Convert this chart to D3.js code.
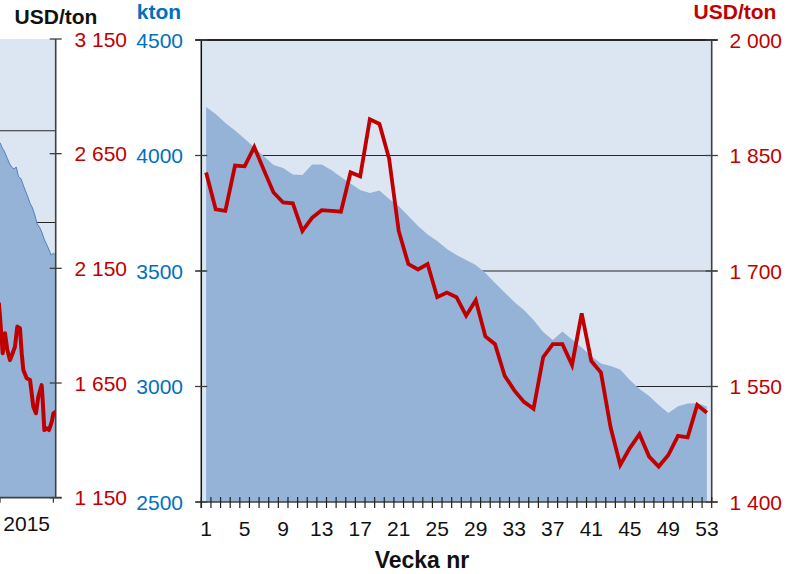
<!DOCTYPE html>
<html>
<head>
<meta charset="utf-8">
<script src="https://cdn.jsdelivr.net/npm/d3@7/dist/d3.min.js"></script>
<style>
  html, body { margin: 0; padding: 0; background: #fff; }
  svg { display: block; font-family: "Liberation Sans", Arial, sans-serif; }
</style>
</head>
<body>
<svg id="chart" width="800" height="574"></svg>
<script>
// ---------- DATA ----------
const weeks = [1,2,3,4,5,6,7,8,9,10,11,12,13,14,15,16,17,18,19,20,21,22,23,24,25,26,27,
  28,29,30,31,32,33,34,35,36,37,38,39,40,41,42,43,44,45,46,47,48,49,50,51,52,53];
const weekLabels = [1,5,9,13,17,21,25,29,33,37,41,45,49,53];

// stock, kton (left axis, area)
const stockKton = [4210,4180,4141,4108,4072,4035,3997,3959,3946,3918,3916,3961,3961,3937,3907,
  3879,3851,3838,3848,3812,3781,3738,3695,3658,3630,3595,3569,3548,3526,3491,3448,3407,3366,
  3331,3288,3236,3201,3238,3203,3169,3132,3100,3089,3074,3028,2989,2959,2920,2885,2915,2926,2928,2913];

// price, USD/ton (right axis, line)
const priceUsd = [1828,1780,1778,1837,1836,1861,1831,1802,1789,1788,1752,1769,1779,1778,1777,
  1828,1823,1897,1891,1846,1752,1709,1702,1709,1666,1672,1666,1642,1662,1615,1605,1564,1545,
  1530,1521,1588,1605,1605,1578,1645,1583,1568,1497,1448,1470,1488,1459,1446,1461,1486,1484,1526,1516];

const ktonTicks = [2500,3000,3500,4000,4500];
const priceTicks = [1400,1550,1700,1850,2000];

// left (cropped) panel: daily series, day index within visible part
const leftStockDays = [0,2,4,6,8,10,12,14,16,18,20,22,24,26,28,30,32,34,36,38,40,42,44,46,48];
const leftStockKton = [3935,3906,3884,3854,3824,3802,3792,3802,3748,3740,3704,3672,3639,3603,
  3579,3541,3492,3475,3448,3410,3383,3355,3323,3332,3323];
const leftPriceDays = [-1,0,2.3,4.3,6.3,8.6,10.9,12.9,14.9,17.2,18.7,20.1,23,25.9,27.3,28.7,31,33,
  35.9,36.8,38.2,40.3,42.2,44.6,46,48];
const leftPriceUsd = [2000,1939,1780,1867,1794,1750,1780,1808,1896,1889,1780,1707,1671,1663,1605,
  1547,1518,1590,1641,1576,1445,1453,1445,1481,1518,1525];
const leftPriceTicks = [1150,1650,2150,2650,3150];
const leftGridKton = [2500,3000,3500,4000];
const leftYearBounds = [0,46];
const leftYearLabel = [{day: 23, label: "2015"}];

// ---------- STYLE ----------
const C = {
  bg: "#dce6f2", area: "#95b3d7", areaLine: "#4f81bd", red: "#c00000",
  blue: "#0070c0", axis: "#404040", grid: "#262626"
};
const fmtSp = d3.formatLocale({thousands: "\u00a0", grouping: [3], decimal: ",", currency: ["", ""]}).format(",");

const svg = d3.select("#chart");

// ---------- MAIN PANEL ----------
const L = 201.3, R = 711.7, T = 40, B = 502;
const x = d3.scaleBand().domain(weeks).range([L, R]).paddingInner(0).paddingOuter(0);
const xc = w => x(w) + x.bandwidth() / 2;
const yK = d3.scaleLinear().domain([2500, 4500]).range([B, T]);
const yP = d3.scaleLinear().domain([1400, 2000]).range([B, T]);

const main = svg.append("g");
main.append("rect").attr("x", L).attr("y", T).attr("width", R - L).attr("height", B - T).attr("fill", C.bg);

main.selectAll("line.grid").data(ktonTicks.filter(v => v > 2500)).join("line")
  .attr("class", "grid")
  .attr("x1", L - 6).attr("x2", R + 6)
  .attr("y1", d => yK(d)).attr("y2", d => yK(d))
  .attr("stroke", C.grid).attr("stroke-width", d => d === 4500 ? 1.8 : 1.1);

const stockData = weeks.map((w, i) => ({w, v: stockKton[i]}));
main.append("path").datum(stockData)
  .attr("d", d3.area().x(d => xc(d.w)).y0(yK(2500)).y1(d => yK(d.v)))
  .attr("fill", C.area);

const priceData = weeks.map((w, i) => ({w, v: priceUsd[i]}));
main.append("path").datum(priceData)
  .attr("d", d3.line().x(d => xc(d.w)).y(d => yP(d.v)))
  .attr("fill", "none").attr("stroke", C.red).attr("stroke-width", 3.8)
  .attr("stroke-linejoin", "miter");

// axes lines
main.append("line").attr("x1", L).attr("x2", L).attr("y1", T).attr("y2", B + 6)
  .attr("stroke", "#111").attr("stroke-width", 1.5);
main.append("line").attr("x1", R).attr("x2", R).attr("y1", T).attr("y2", B)
  .attr("stroke", C.axis).attr("stroke-width", 1.6);
main.append("line").attr("x1", L - 6).attr("x2", R + 6).attr("y1", B).attr("y2", B)
  .attr("stroke", C.axis).attr("stroke-width", 1.6);

// left ticks + labels
main.selectAll("line.lt").data(ktonTicks).join("line").attr("class", "lt")
  .attr("x1", L - 6).attr("x2", L + 6).attr("y1", d => yK(d)).attr("y2", d => yK(d))
  .attr("stroke", C.axis).attr("stroke-width", 1.3);
main.selectAll("text.lt").data(ktonTicks).join("text").attr("class", "lt")
  .attr("x", 183).attr("y", d => yK(d)).attr("dy", "0.36em")
  .attr("text-anchor", "end").attr("fill", C.blue).attr("font-size", 21)
  .text(d => String(d));

// right ticks + labels
main.selectAll("line.rt").data(priceTicks).join("line").attr("class", "rt")
  .attr("x1", R - 6).attr("x2", R + 6).attr("y1", d => yP(d)).attr("y2", d => yP(d))
  .attr("stroke", C.axis).attr("stroke-width", 1.3);
main.selectAll("text.rt").data(priceTicks).join("text").attr("class", "rt")
  .attr("x", 782).attr("y", d => yP(d)).attr("dy", "0.36em")
  .attr("text-anchor", "end").attr("fill", C.red).attr("font-size", 21)
  .text(d => fmtSp(d));

// x ticks at category boundaries
const bounds = weeks.map(w => x(w)).concat([R]);
main.selectAll("line.xt").data(bounds).join("line").attr("class", "xt")
  .attr("x1", d => d).attr("x2", d => d).attr("y1", B - 5).attr("y2", B + 6)
  .attr("stroke", "#222").attr("stroke-width", 1.2);
main.selectAll("text.xt").data(weekLabels).join("text").attr("class", "xt")
  .attr("x", d => xc(d)).attr("y", 536)
  .attr("text-anchor", "middle").attr("fill", "#111").attr("font-size", 21)
  .text(d => d);

main.append("text").attr("x", 422).attr("y", 568).attr("text-anchor", "middle")
  .attr("font-size", 23).attr("font-weight", "bold").attr("fill", "#111").text("Vecka nr");
main.append("text").attr("x", 159).attr("y", 19).attr("text-anchor", "middle")
  .attr("font-size", 21).attr("font-weight", "bold").attr("fill", C.blue).text("kton");
main.append("text").attr("x", 735).attr("y", 18.5).attr("text-anchor", "middle")
  .attr("font-size", 21).attr("font-weight", "bold").attr("fill", C.red).text("USD/ton");

// ---------- LEFT (CROPPED) PANEL ----------
const LR = 55.7, LT = 39, LB = 497.7;
const xL = d3.scaleLinear().domain([0, 48]).range([0, LR]);
const yLK = d3.scaleLinear().domain([2000, 4500]).range([LB, LT]);
const yLP = d3.scaleLinear().domain([1150, 3150]).range([LB, LT]);

const left = svg.append("g");
svg.append("clipPath").attr("id", "lclip").append("rect")
  .attr("x", 0).attr("y", LT).attr("width", LR).attr("height", LB - LT);

left.append("rect").attr("x", 0).attr("y", LT).attr("width", LR).attr("height", LB - LT).attr("fill", C.bg);
left.selectAll("line.grid").data(leftGridKton).join("line").attr("class", "grid")
  .attr("x1", 0).attr("x2", LR).attr("y1", d => yLK(d)).attr("y2", d => yLK(d))
  .attr("stroke", C.grid).attr("stroke-width", 1.1);

const lStock = leftStockDays.map((d, i) => ({d, v: leftStockKton[i]}));
left.append("path").datum(lStock)
  .attr("d", d3.area().x(p => xL(p.d)).y0(yLK(2000)).y1(p => yLK(p.v)))
  .attr("fill", C.area);
left.append("path").datum(lStock)
  .attr("d", d3.line().x(p => xL(p.d)).y(p => yLK(p.v)))
  .attr("fill", "none").attr("stroke", C.areaLine).attr("stroke-width", 1);

const lPrice = leftPriceDays.map((d, i) => ({d, v: leftPriceUsd[i]}));
left.append("path").datum(lPrice).attr("clip-path", "url(#lclip)")
  .attr("d", d3.line().x(p => xL(p.d)).y(p => yLP(p.v)))
  .attr("fill", "none").attr("stroke", C.red).attr("stroke-width", 4)
  .attr("stroke-linejoin", "round");

left.append("line").attr("x1", LR).attr("x2", LR).attr("y1", LT).attr("y2", LB)
  .attr("stroke", C.axis).attr("stroke-width", 1.6);
left.append("line").attr("x1", 0).attr("x2", LR + 6).attr("y1", LB).attr("y2", LB)
  .attr("stroke", C.axis).attr("stroke-width", 1.8);
left.selectAll("line.rt").data(leftPriceTicks).join("line").attr("class", "rt")
  .attr("x1", LR - 6).attr("x2", LR + 6).attr("y1", d => yLP(d)).attr("y2", d => yLP(d))
  .attr("stroke", C.axis).attr("stroke-width", 1.3);
left.selectAll("text.rt").data(leftPriceTicks).join("text").attr("class", "rt")
  .attr("x", 127).attr("y", d => yLP(d)).attr("dy", "0.36em")
  .attr("text-anchor", "end").attr("fill", C.red).attr("font-size", 21)
  .text(d => fmtSp(d));
left.selectAll("line.xt").data(leftYearBounds).join("line").attr("class", "xt")
  .attr("x1", d => xL(d)).attr("x2", d => xL(d)).attr("y1", LB).attr("y2", LB + 5)
  .attr("stroke", C.axis).attr("stroke-width", 1.3);
left.selectAll("text.xt").data(leftYearLabel).join("text").attr("class", "xt")
  .attr("x", d => xL(d.day)).attr("y", 531).attr("text-anchor", "middle")
  .attr("fill", "#111").attr("font-size", 21).text(d => d.label);
left.append("text").attr("x", 56).attr("y", 24).attr("text-anchor", "middle")
  .attr("font-size", 21).attr("font-weight", "bold").attr("fill", "#111").text("USD/ton");
</script>
</body>
</html>
